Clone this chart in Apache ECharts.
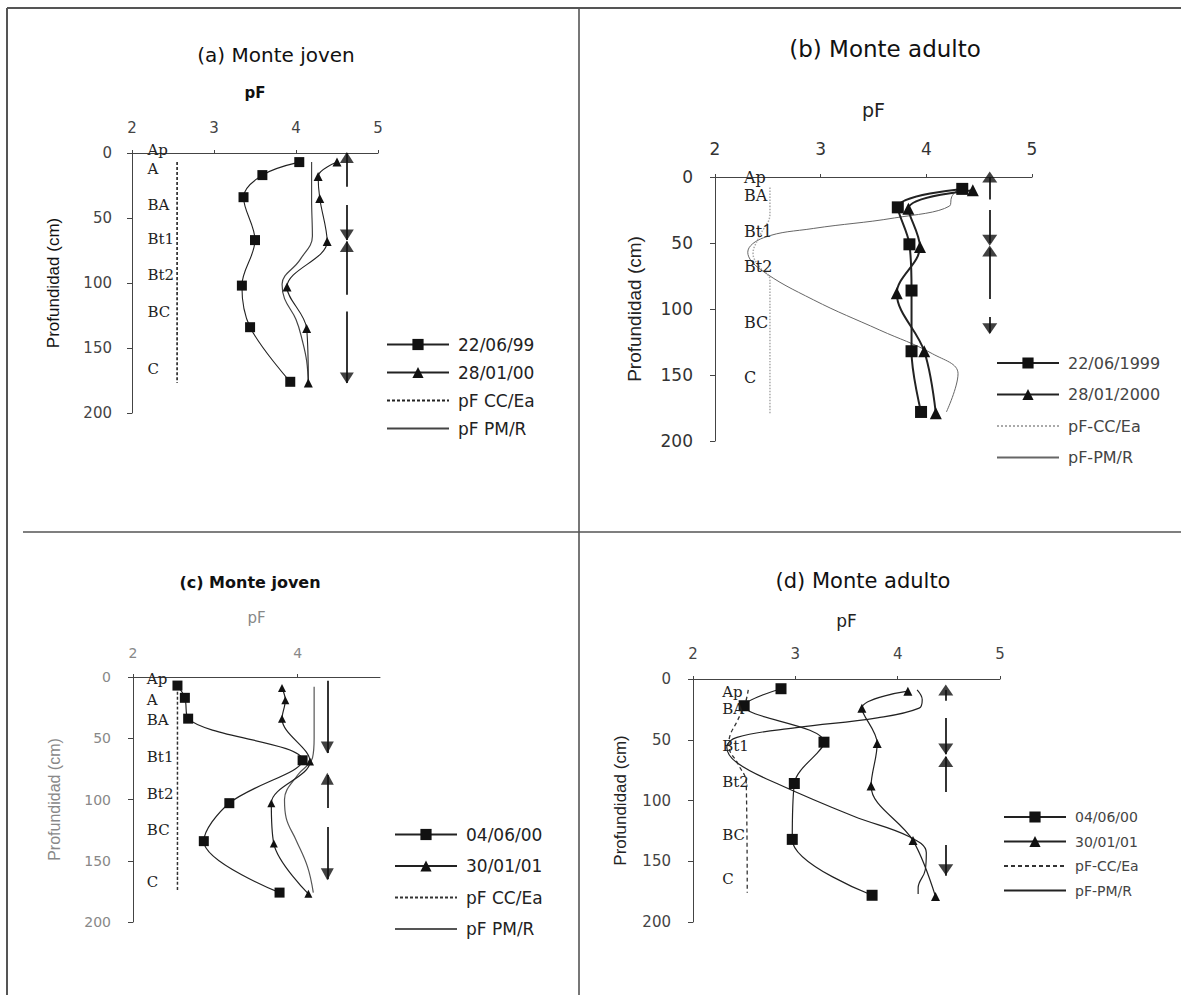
<!DOCTYPE html>
<html><head><meta charset="utf-8">
<script src="https://cdn.jsdelivr.net/npm/echarts@6/dist/echarts.min.js"></script>
<style>html,body{margin:0;padding:0;background:#fff}#c{width:1181px;height:995px}</style>
</head><body><div id="c"></div>
<script>
// ================= DATA (pF value, depth cm) =================
// Panel (a) Monte joven
const titleA = '(a) Monte joven';
const legendA = ['22/06/99', '28/01/00', 'pF CC/Ea', 'pF PM/R'];
const squareA = [[4.04,7],[3.59,17],[3.36,34],[3.50,67],[3.34,102],[3.44,134],[3.93,176]];
const triangleA = [[4.50,7],[4.27,18],[4.29,35],[4.38,68],[3.89,103],[4.13,135],[4.15,177]];
const ccA = [[2.55,7],[2.55,177]];
const pmA = [[4.19,7],[4.19,35],[4.20,64],[4.05,82],[3.83,101],[3.86,112],[4.00,128],[4.08,145],[4.13,160],[4.15,177]];
const arrowXA = 4.62;
const arrowSegA = [[0,26],[40,67],[68,109],[122,177]];
const arrowUpA = [3.5,72];
const arrowDownA = [63,173];
const horizonsA = ['Ap','A','BA','Bt1','Bt2','BC','C'];
const horizonDepthA = [-2.5,12,40,66,94,122,166];
const horizonXA = 2.17;

// Panel (b) Monte adulto
const titleB = '(b) Monte adulto';
const legendB = ['22/06/1999', '28/01/2000', 'pF-CC/Ea', 'pF-PM/R'];
const squareB = [[4.34,9],[3.73,23],[3.84,51],[3.86,86],[3.86,132],[3.95,178]];
const triangleB = [[4.44,10],[3.83,24],[3.94,53],[3.72,88],[3.98,132],[4.09,179]];
const ccB = [[2.52,8],[2.52,28],[2.42,45],[2.36,58],[2.42,68],[2.52,78],[2.52,179]];
const pmB = [[4.30,9],[4.24,15],[4.22,22],[3.70,31],[2.93,39],[2.46,46],[2.31,57],[2.43,70],[2.93,93],[3.56,116],[4.06,134],[4.30,149],[4.19,178]];
const arrowXB = 4.60;
const arrowSegB = [[0,17],[25,50],[54,92.5],[106,118]];
const arrowUpB = [0,56];
const arrowDownB = [48,115];
const horizonsB = ['Ap','BA','Bt1','Bt2','BC','C'];
const horizonDepthB = [0,14,41,68,110,152];
const horizonXB = 2.26;

// Panel (c) Monte joven
const titleC = '(c) Monte joven';
const legendC = ['04/06/00', '30/01/01', 'pF CC/Ea', 'pF PM/R'];
const squareC = [[2.54,7],[2.63,17],[2.67,34],[4.06,68],[3.17,103],[2.86,134],[3.78,176]];
const triangleC = [[3.81,9],[3.85,19],[3.81,34],[4.15,69],[3.68,103],[3.71,136],[4.13,177]];
const ccC = [[2.54,8],[2.54,174]];
const pmC = [[4.20,8],[4.20,50],[4.18,66],[4.00,80],[3.84,100],[3.86,115],[3.98,133],[4.12,155],[4.19,176]];
const arrowXC = 4.36;
const arrowSegC = [[3,62],[80,107],[122.5,165]];
const arrowUpC = [83];
const arrowDownC = [57.5,161];
const horizonsC = ['Ap','A','BA','Bt1','Bt2','BC','C'];
const horizonDepthC = [2,19,35,65,95.5,125,167];
const horizonXC = 2.15;

// Panel (d) Monte adulto
const titleD = '(d) Monte adulto';
const legendD = ['04/06/00', '30/01/01', 'pF-CC/Ea', 'pF-PM/R'];
const squareD = [[2.86,8],[2.50,22],[3.28,52],[2.99,86],[2.97,132],[3.75,178]];
const triangleD = [[4.10,10],[3.65,24],[3.80,53],[3.74,88],[4.15,133],[4.37,179]];
const ccD = [[2.54,9],[2.51,20],[2.43,35],[2.36,47],[2.35,55],[2.44,70],[2.52,85],[2.53,176]];
const pmD = [[4.19,9],[4.24,17],[4.21,24],[3.80,32],[3.01,40],[2.43,48],[2.33,56],[2.43,69],[2.82,86],[3.57,113],[4.12,130],[4.28,143],[4.27,157],[4.20,172],[4.20,177]];
const arrowXD = 4.47;
const arrowSegD = [[9,18],[32,62],[64,93],[136.6,162]];
const arrowUpD = [9,68];
const arrowDownD = [57.6,157];
const horizonsD = ['Ap','BA','Bt1','Bt2','BC','C'];
const horizonDepthD = [10.7,25,55,85,128,165];
const horizonXD = 2.27;

const axisNameX = 'pF';
const axisNameY = 'Profundidad (cm)';

// ================= LAYOUT / STYLE =================
const SANS = '"DejaVu Sans", sans-serif';
const NARROW = '"Liberation Sans", Arial, sans-serif';
const SERIF = '"DejaVu Serif", "Liberation Serif", serif';
const CLEAR = 'rgba(0,0,0,0)';

const panels = [
  { key:'a', title:titleA, legend:legendA, sq:squareA, tr:triangleA, cc:ccA, pm:pmA,
    ax:arrowXA, seg:arrowSegA, up:arrowUpA, down:arrowDownA, hz:horizonsA, hd:horizonDepthA, hx:horizonXA,
    grid:{left:132, top:153, width:246, height:260}, xInterval:1,
    title_pos:[276,55], titleFont:'normal 20px '+SANS,
    xName:{gap:53, size:15, weight:'bold', color:'#111'}, yName:{gap:70, size:17, color:'#111'},
    tickFont:15, tickColor:'#444', xMargin:18, yMargin:20,
    sqSize:10, trSize:9, lw:1.1, dataColor:'#222',
    ccStyle:{type:[3,2], width:1.6, color:'#222'}, pmStyle:{width:1.2, color:'#444'},
    legendPos:{left:386, top:336, gap:11, size:17, color:'#222'}, headSize:[14,11], hzSize:15
  },
  { key:'b', title:titleB, legend:legendB, sq:squareB, tr:triangleB, cc:ccB, pm:pmB,
    ax:arrowXB, seg:arrowSegB, up:arrowUpB, down:arrowDownB, hz:horizonsB, hd:horizonDepthB, hx:horizonXB,
    grid:{left:715, top:177, width:317, height:264}, xInterval:1,
    title_pos:[885,49], titleFont:'normal 23px '+SANS,
    xName:{gap:58, size:19, weight:'normal', color:'#222'}, yName:{gap:71, size:19, color:'#222'},
    tickFont:17, tickColor:'#333', xMargin:20, yMargin:22,
    sqSize:12, trSize:12, lw:2, dataColor:'#222',
    ccStyle:{type:'dotted', width:1.5, color:'#aaa'}, pmStyle:{width:1, color:'#666'},
    legendPos:{left:996, top:355, gap:15.5, size:16, color:'#444'}, headSize:[15,11], hzSize:16
  },
  { key:'c', title:titleC, legend:legendC, sq:squareC, tr:triangleC, cc:ccC, pm:pmC,
    ax:arrowXC, seg:arrowSegC, up:arrowUpC, down:arrowDownC, hz:horizonsC, hd:horizonDepthC, hx:horizonXC,
    grid:{left:133, top:677, width:247, height:245}, xInterval:2,
    title_pos:[250,582], titleFont:'bold 16px '+SANS,
    xName:{gap:52, size:15, weight:'normal', color:'#888'}, yName:{gap:71, size:16, color:'#888'},
    tickFont:14, tickColor:'#888', xMargin:17, yMargin:22,
    sqSize:10, trSize:8, lw:1.2, dataColor:'#222',
    ccStyle:{type:[3,2], width:1.5, color:'#333'}, pmStyle:{width:1.2, color:'#555'},
    legendPos:{left:394, top:826, gap:14.5, size:17, color:'#222'}, headSize:[13,12], hzSize:15
  },
  { key:'d', title:titleD, legend:legendD, sq:squareD, tr:triangleD, cc:ccD, pm:pmD,
    ax:arrowXD, seg:arrowSegD, up:arrowUpD, down:arrowDownD, hz:horizonsD, hd:horizonDepthD, hx:horizonXD,
    grid:{left:693, top:679, width:307, height:243}, xInterval:1,
    title_pos:[863,581], titleFont:'normal 21px '+SANS,
    xName:{gap:50, size:17, weight:'normal', color:'#222'}, yName:{gap:64, size:17, color:'#222'},
    tickFont:15, tickColor:'#444', xMargin:18, yMargin:22,
    sqSize:11, trSize:9, lw:1.2, dataColor:'#222',
    ccStyle:{type:[4,3], width:1.3, color:'#333'}, pmStyle:{width:1.2, color:'#222'},
    legendPos:{left:1003, top:810, gap:10.5, size:14, color:'#444'}, headSize:[15,11], hzSize:15
  }
];

const grids = [], xAxes = [], yAxes = [], series = [], legends = [], graphics = [];

panels.forEach((p, i) => {
  grids.push(Object.assign({containLabel:false}, p.grid));
  xAxes.push({
    gridIndex:i, type:'value', position:'top', min:2, max:5, interval:p.xInterval,
    name:axisNameX, nameLocation:'middle', nameGap:p.xName.gap,
    nameTextStyle:{fontSize:p.xName.size, fontWeight:p.xName.weight, fontFamily:SANS, color:p.xName.color},
    axisLine:{show:true, onZero:false, lineStyle:{color:'#444', width:1}},
    axisTick:{show:true, length:3, lineStyle:{color:'#444'}},
    axisLabel:{margin:p.xMargin, fontSize:p.tickFont, fontFamily:SANS, color:p.tickColor, showMaxLabel: p.xInterval === 1},
    splitLine:{show:false}
  });
  yAxes.push({
    gridIndex:i, type:'value', inverse:true, min:0, max:200, interval:50,
    name:axisNameY, nameLocation:'middle', nameRotate:90, nameGap:p.yName.gap,
    nameTextStyle:{fontSize:p.yName.size, fontFamily:NARROW, color:p.yName.color},
    axisLine:{show:true, onZero:false, lineStyle:{color:'#444', width:1}},
    axisTick:{show:true, length:5, lineStyle:{color:'#444'}},
    axisLabel:{margin:p.yMargin, fontSize:p.tickFont, fontFamily:SANS, color:p.tickColor},
    splitLine:{show:false}
  });
  const nm = s => p.key + ':' + s;
  series.push({
    type:'line', name:nm(p.legend[3]), xAxisIndex:i, yAxisIndex:i, data:p.pm,
    symbol:'none', smooth:0.4, lineStyle:p.pmStyle, itemStyle:{color:p.pmStyle.color}, z:2, animation:false
  });
  series.push({
    type:'line', name:nm(p.legend[2]), xAxisIndex:i, yAxisIndex:i, data:p.cc,
    symbol:'none', smooth:0.4, lineStyle:p.ccStyle, itemStyle:{color:p.ccStyle.color}, z:2, animation:false
  });
  series.push({
    type:'line', name:nm(p.legend[0]), xAxisIndex:i, yAxisIndex:i, data:p.sq,
    symbol:'rect', symbolSize:p.sqSize, smooth:0.35,
    lineStyle:{color:p.dataColor, width:p.lw}, itemStyle:{color:'#111'}, z:4, animation:false
  });
  series.push({
    type:'line', name:nm(p.legend[1]), xAxisIndex:i, yAxisIndex:i, data:p.tr,
    symbol:'triangle', symbolSize:p.trSize, smooth:0.35,
    lineStyle:{color:p.dataColor, width:p.lw}, itemStyle:{color:'#111'}, z:4, animation:false
  });
  // horizon arrows: shafts
  series.push({
    type:'lines', name:'arrows-'+p.key, coordinateSystem:'cartesian2d', xAxisIndex:i, yAxisIndex:i,
    data:p.seg.map(s => ({coords:[[p.ax, s[0]], [p.ax, s[1]]]})),
    lineStyle:{color:'#111', width:1.7, opacity:1}, silent:true, z:3, animation:false
  });
  // arrow heads
  series.push({
    type:'scatter', name:'heads-'+p.key, xAxisIndex:i, yAxisIndex:i, clip:false,
    symbol:'triangle', symbolSize:p.headSize,
    data:p.up.map(d => ({value:[p.ax, d], symbolRotate:0}))
      .concat(p.down.map(d => ({value:[p.ax, d], symbolRotate:180}))),
    itemStyle:{color:'#111'}, silent:true, z:3, animation:false
  });
  // horizon names
  series.push({
    type:'scatter', name:'hz-'+p.key, xAxisIndex:i, yAxisIndex:i, clip:false,
    symbolSize:2, itemStyle:{color:CLEAR, borderColor:CLEAR},
    data:p.hz.map((h, k) => ({name:h, value:[p.hx, p.hd[k]]})),
    label:{show:true, position:'right', distance:0, formatter:'{b}', fontFamily:SERIF, fontSize:p.hzSize, lineHeight:p.hzSize, color:'#222', opacity:1},
    silent:true, z:5, animation:false
  });
  legends.push({
    data:p.legend.map((s, k) => k < 2 ? {name:nm(s)} :
      {name:nm(s), itemStyle:{color:CLEAR, borderColor:CLEAR, opacity:0}}),
    orient:'vertical', left:p.legendPos.left, top:p.legendPos.top,
    itemWidth:62, itemHeight:14, itemGap:p.legendPos.gap, selectedMode:false, padding:0,
    formatter: n => n.slice(2),
    textStyle:{fontSize:p.legendPos.size, fontFamily:SANS, color:p.legendPos.color, padding:[0,0,0,4]}
  });
  graphics.push({
    type:'text', x:p.title_pos[0], y:p.title_pos[1], silent:true,
    style:{text:p.title, font:p.titleFont, fill:'#111', align:'center', verticalAlign:'middle',
           textAlign:'center', textVerticalAlign:'middle'}
  });
});

// frame lines
const frame = [
  [7, 8, 1181, 8, 2], [7, 8, 7, 995, 2], [579, 8, 579, 995, 1.6], [23, 532, 1181, 532, 1.6]
];
frame.forEach(f => graphics.push({
  type:'line', silent:true, shape:{x1:f[0], y1:f[1], x2:f[2], y2:f[3]},
  style:{stroke:'#555', lineWidth:f[4]}
}));

const chart = echarts.init(document.getElementById('c'), null, {renderer:'svg'});
chart.setOption({
  backgroundColor:'#fff', animation:false,
  grid:grids, xAxis:xAxes, yAxis:yAxes, series:series, legend:legends, graphic:graphics
});
</script></body></html>
